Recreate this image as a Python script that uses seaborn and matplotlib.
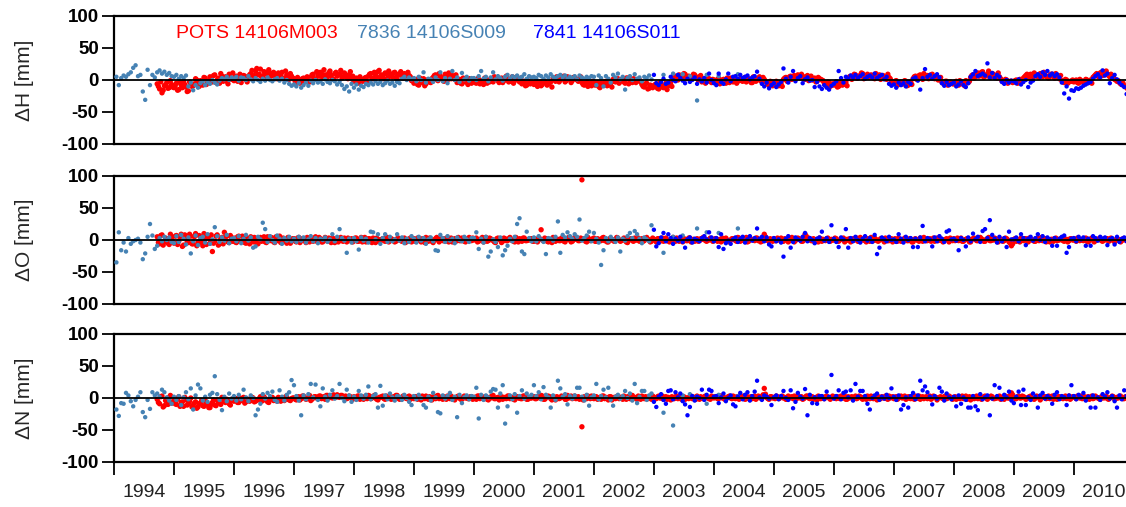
import numpy as np
import pandas as pd
import matplotlib
matplotlib.use("Agg")
import matplotlib.pyplot as plt
import seaborn as sns

# Sampling of the residual series (decimal years)
STEP = 0.04
POTS_START = 1994.72     # POTS 14106M003, first epoch
POTS_START_B = 1994.74   # POTS 14106M003, interleaved epochs
S009_START = 1994.04     # 7836 14106S009, first epoch
S011_START = 2003.00     # 7841 14106S011, first epoch

YEARS = list(range(1994, 2011))
COMPONENTS = ["ΔH [mm]", "ΔO [mm]", "ΔN [mm]"]
STATIONS = ["POTS 14106M003", "7836 14106S009", "7841 14106S011"]
COLORS = ["#ff0000", "#4682b4", "#0000ff"]

# ---------------- POTS 14106M003 (GPS) ----------------
pots_dH = (
    [-6, -14, -20, -9, -4, -12, -7] +                                            # 1994
    [-12, -5, -15, -8, -2, -11, -17, -6, -9, 2, -5, -1, -8, 3, -4,
     5, -3, 8, 0, -5, 6, 2, -2, 9, 1] +                                          # 1995
    [-1, 6, 3, -4, 7, 1, 4, 10, 4, 14, 8, 17, 6, 12, 3, 11, 7,
     9, 2, 7, 12, 3, 8, 1, 6] +                                                  # 1996
    [2, -4, 1, -3, 3, -2, 0, 4, 9, 1, 7, 12, 3, 8, 5, 14, 2, 10, 6, 9,
     3, 11, 4, 7, 2] +                                                           # 1997
    [-2, 3, -4, 1, -1, 4, 6, 10, 2, 8, 13, 4, 7, 11, 3, 9, 5, 12, 1, 8,
     6, 10, 3, 7, -1] +                                                          # 1998
    [-5, 1, -8, -2, 2, -6, -1, -4, 4, 8, -1, 6, 2, 9, 0, 5, 7, 1,
     -4, 1, -6, -1, -3, 2, -5] +                                                 # 1999
    [-1, -5, 1, -3, -7, 0, -2, 2, -3, 4, -1, 1, -4, 3, 0, -2, 5, -1, 2, -3,
     -6, -2, -8, -3, -5] +                                                       # 2000
    [-7, -2, -5, -9, -1, -4, -6, -3, 3, -2, 4, 0, 2, -3, 5, 1, -1, 3, 0, 2,
     -4, -8, -2, -6, -9] +                                                       # 2001
    [-3, -7, -10, -4, -6, -2, -8, -5, 1, -3, 2, -2, 0, -5, 3, -1, -4, 1, -2, 0,
     -7, -11, -5, -13, -9] +                                                     # 2002
    [-10, -6, -14, -8, -12, -5, -9, -4, 2, 6, 0, 7, 3, 9, 4, 1, 6, 8, 2, 5,
     -3, 1, -2, 2, -4] +                                                         # 2003
    [0, -4, 2, -2, 1, -5, -1, 3, -3, 0, -2, 2, -2, 4, -1, 1, -4, 3, 0, 5, -3, 1,
     -4, -8, -3] +                                                               # 2004
    [-6, -2, -9, -5, 1, 4, -1, 6, 2, 5, 8, 3, 6, 1, 7, 4, 0, 3, -2, 2, 0,
     -5, -9, -4, -7] +                                                           # 2005
    [-8, -3, -10, -5, -7, -4, 2, 6, 4, 8, 3, 7, 10, 5, 9, 4, 7, 2, 6, 8, 3, 5,
     1, 4, -2] +                                                                 # 2006
    [-5, -1, -7, -3, -6, -2, -8, -4, 2, 6, 3, 8, 1, 5, 7, 4, 9, 2, 5, 1,
     -3, -6, -2, -7, -4] +                                                       # 2007
    [-6, -2, -8, -3, -5, -1, -4, 4, 8, 5, 11, 7, 13, 6, 9, 4, 10, 7, 3, 5,
     -1, -4, 0, -3, -2] +                                                        # 2008
    [-3, 0, -4, -1, 3, 7, 5, 9, 4, 8, 6, 10, 5, 8, 4, 7, 9, 3, 6, 2,
     -1, -4, 0, -3, -2] +                                                        # 2009
    [-3, 0, -5, -1, -2, 1, -4, 0, 4, 8, 6, 11, 7, 13, 9, 5,
     3, 1, -2, -4, -7, -9, -12]                                                  # 2010
)
pots_dH_b = (
    [-10, -3, -16, -8, -13, -1, -11] +                                           # 1994
    [-9, -16, -4, -12, -7, -18, -3, -10, -6, 0, -10, -2, 4, -7, -1,
     0, 7, -4, 3, 10, -2, 5, -6, 4, 11] +                                        # 1995
    [5, -2, 9, 2, 6, -3, 8, 15, 7, 18, 9, 5, 13, 10, 16, 6, 12,
     4, 11, 8, 2, 14, 5, 10, 3] +                                                # 1996
    [-2, 4, -5, 2, -1, 5, -3, 8, 2, 13, 6, 10, 16, 4, 11, 7, 1, 12, 8, 15,
     5, 9, 2, 13, 6] +                                                           # 1997
    [2, -5, 5, -2, 3, -3, 9, 3, 12, 5, 15, 8, 2, 10, 14, 6, 11, 4, 9, 13,
     3, 8, 12, 5, 2] +                                                           # 1998
    [-1, -7, 3, -4, -9, 0, -3, 2, 7, 1, 10, 3, -2, 6, 11, 2, 4, 8,
     0, -5, 3, -3, -7, 1, -2] +                                                  # 1999
    [-4, 2, -6, -1, 3, -5, -3, -2, 5, 1, -4, 3, -1, 6, -3, 2, -5, 4, 0, 3,
     -3, -9, -1, -6, -4] +                                                       # 2000
    [-5, -10, -3, -7, -2, -8, -4, -11, 1, 5, -3, 2, 6, -1, 3, -4, 4, 2, -2, 5,
     -7, -3, -10, -5, -2] +                                                      # 2001
    [-8, -4, -12, -6, -3, -9, -5, -11, -2, 2, -5, 1, -3, 3, -6, 0, 2, -4, 1, -3,
     -10, -6, -14, -8, -12] +                                                    # 2002
    [-7, -13, -5, -11, -9, -15, -6, -10, 5, 1, 8, 4, 10, 2, 6, 3, 9, 5, 0, 7,
     0, -5, 2, -2, 1] +                                                          # 2003
    [-3, 1, -6, 0, -2, 3, -4, -1, 2, -5, 1, -1, 3, -3, 2, -4, 5, -2, 1, -1, 4, -2,
     -7, -2, -9] +                                                               # 2004
    [-3, -8, -4, -10, 3, -2, 5, 1, 7, 3, 4, 9, 2, 5, -1, 6, 2, -3, 4, 1, -1,
     -8, -3, -10, -6] +                                                          # 2005
    [-5, -11, -4, -8, -2, -9, 5, 1, 9, 3, 6, 11, 2, 7, 4, 8, 3, 10, 5, 1, 7, 4,
     9, 2, -4] +                                                                 # 2006
    [-2, -8, -4, -6, -1, -9, -3, -7, 5, 1, 7, 3, 10, 4, 2, 8, 3, 6, 0, 4,
     -5, -2, -8, -3, -6] +                                                       # 2007
    [-3, -7, -1, -6, -9, -4, -2, 7, 3, 10, 6, 12, 4, 8, 14, 5, 9, 6, 11, 2,
     -3, 1, -5, -2, -4] +                                                        # 2008
    [-1, -5, 1, -3, 5, 9, 3, 7, 11, 6, 4, 8, 12, 6, 3, 9, 5, 10, 4, 7,
     -3, 1, -5, -2, 0] +                                                         # 2009
    [-1, -4, 1, -3, -6, 0, -2, -5, 6, 10, 5, 12, 8, 14, 7, 9,
     5, 0, -1, -6, -5, -10, -14]                                                 # 2010
)
pots_dO = (
    [5, -6, 8, -3, 2, -7, 4] +
    [-5, 7, -2, 9, -8, 3, -4, 6, -6, 10, -3, 5, -9, 2, 7, -5, -18, -2, 8, -6, 4, 12, 6, -4, 3] +
    [3, -4, 6, -2, 4, -5, 1, 5, -3, 2, -6, 4, 0, -3, 5, -1, 3, -4, 2, 6, -2, 1, -5, 3, -1] +
    [2, -3, 4, -1, 1, -4, 3, 0, -2, 5, -1, 2, -3, 4, 0, -2, 3, -4, 1, 2, -1, 3, -3, 0, 2] +
    [-1, 3, -2, 4, 0, -3, 2, -1, 3, -4, 1, 0, 2, -2, 4, -1, 1, -3, 2, 0, -2, 3, -1, 1, -3] +
    [2, -1, 3, -3, 0, 4, -2, 1, -4, 2, 0, 3, -1, -2, 4, 1, -3, 2, 0, -1, 3, -2, 1, 4, -1] +
    [0, 3, -2, 1, -3, 4, -1, 2, 0, -4, 3, 1, -2, 2, -1, 4, 0, -3, 1, 2, -2, 3, -1, 0, 2] +
    [-2, 1, 3, 16, -1, 2, -3, 0, 4, -2, 1, -1, 3, -3, 2, 0, -2, 4, 1, -1, 94, 2, -3, 1, 0] +
    [3, -2, 1, -1, 4, 0, -3, 2, -1, 1, 3, -2, 0, 2, -4, 1, -1, 3, 0, -2, 2, -1, 4, 0, -2] +
    [1, -3, 2, 0, -2, 3, -1, 1, 4, -2, 0, 2, -3, 1, -1, 3, 0, -2, 2, -1, 1, 3, -2, 0, 1] +
    [-1, 2, 0, -3, 1, 3, -2, 0, 2, -1, 4, -2, 1, 0, -3, 2, 1, -1, 3, 0, -2, 9, 1, -2, 0] +
    [2, -1, 0, 3, -2, 1, -3, 2, 0, -1, 3, 1, -2, 9, 0, 2, -1, -3, 1, 3, -2, 0, 2, -1, 1] +
    [0, 2, -2, 1, 3, -1, 0, -3, 2, 1, -2, 4, 0, -1, 2, -2, 1, 3, -1, 0, 2, -3, 1, -1, 2] +
    [-1, 1, 3, -2, 0, 2, -1, 1, -3, 2, 0, 3, -2, 1, -1, 2, 0, -2, 3, 1, -1, 0, 2, -3, 1] +
    [2, 0, -1, 3, -2, 1, 0, -3, 2, 1, -1, 4, 0, -2, 2, -1, 1, 3, -2, 0, 1, -1, 2, -3, -9] +
    [1, -2, 0, 3, -1, 2, -3, 1, 0, -2, 3, 1, -1, 2, 0, -3, 1, 2, -1, 0, 3, -2, 1, -1, 2] +
    [0, -2, 2, 1, -1, 3, -3, 0, 2, -1, 1, 3, -2, 0, 2, -1, 1, -3, 2, 0, -1, 2, 1]
)
pots_dO_b = (
    [-4, 7, -8, 3, -5, 9, -2] +
    [6, -7, 4, -10, 8, -3, 9, -6, 5, -9, 7, -4, 10, -7, 3, 8, -5, 6, -8, 2, -6, 5, -3, 7, -2] +
    [-3, 5, -2, 6, -4, 3, -6, 2, 4, -5, 3, -2, 5, -4, 1, 4, -3, 5, -1, -4, 3, -2, 4, -5, 2] +
    [-2, 3, -4, 2, -1, 4, -3, 1, 3, -2, 4, -3, 1, -1, 3, -4, 2, 0, -3, 4, -2, 1, 3, -1, -3] +
    [3, -2, 1, -3, 4, -1, 2, -4, 0, 3, -2, 1, -1, 4, -3, 2, 0, -2, 3, -1, 2, -4, 1, 3, -1] +
    [-2, 3, -1, 2, -4, 1, 3, -2, 0, 4, -3, 1, 2, -1, -3, 3, 0, -2, 4, -1, 1, -3, 2, 0, 3] +
    [2, -3, 1, 4, -1, -2, 3, 0, -3, 2, 1, -4, 3, -1, 2, 0, -2, 4, -3, 1, 3, -1, 0, 2, -2] +
    [1, -3, 2, 0, 3, -2, 1, -4, 2, 0, -1, 3, -2, 1, 4, -3, 0, 2, -1, 3, 1, -2, 4, -1, 2] +
    [-2, 2, 0, 3, -1, -3, 2, 1, -2, 4, 0, -1, 3, -3, 1, 2, -2, 0, 3, -1, -2, 2, 1, -3, 3] +
    [0, 2, -2, 3, 1, -1, -3, 2, 0, 3, -2, 1, 2, -1, 3, -3, 1, 0, -2, 2, 4, -1, 0, 3, -2] +
    [2, -2, 1, 3, -1, 0, -3, 2, 1, -2, 3, 0, -1, 4, -2, 1, 0, 3, -1, -3, 2, 5, -1, 2, -2] +
    [-1, 3, 1, -2, 2, 0, -1, 4, -3, 1, 2, -2, 0, 6, 3, -1, 2, 0, -3, 2, 1, -1, 3, -2, 0] +
    [3, -1, 0, 2, -3, 1, 2, -1, 0, 3, -2, 1, 2, -3, 0, 4, -1, 1, -2, 2, 0, 3, -1, 1, -3] +
    [2, -2, 1, 0, 3, -1, 2, -3, 1, 0, -2, 2, 4, -1, 1, -2, 3, 0, -1, 2, -3, 1, 0, 3, -1] +
    [-1, 3, 1, -2, 0, 2, -3, 1, 3, -1, 0, 2, -2, 1, 4, -1, 0, 2, -3, 1, -2, 3, 0, -5, -6] +
    [2, 0, -3, 1, 2, -1, 3, 0, -2, 1, -1, 4, 2, -3, 0, 1, -2, 3, 0, 2, -1, 1, -3, 2, 0] +
    [1, 3, -1, 0, 2, -2, 1, 3, -3, 0, 2, -1, 1, 2, -2, 3, 0, -1, 1, -3, 2, 0, -1]
)
pots_dN = (
    [-2, -9, 3, -12, -5, 1, -8] +
    [-4, -10, 2, -7, -13, -3, -9, 0, -11, -6, -14, -8, -12, -4, -10, -15, -7, -11, -3, -8, 1, -6, -2, -9, -4] +
    [-5, -1, -7, -3, 1, -6, -2, -4, 0, -5, -3, 2, -4, -1, -6, -2, 1, -3, -5, 0, -2, -4, 1, -3, -1] +
    [0, -3, 2, -1, 3, -2, 1, -4, 0, 2, -1, 3, 1, -2, 4, 2, 0, 3, 5, 1, 4, 2, -1, 3, 0] +
    [2, -1, 3, 0, -2, 1, 4, -1, 2, 0, -3, 1, 3, -2, 0, 2, -1, 1, 4, -2, 0, 2, -1, 3, 1] +
    [-1, 2, 0, -3, 1, 3, -2, 0, 2, -1, 4, 1, -2, 0, 3, -1, 1, -3, 2, 0, -2, 3, 1, -1, 2] +
    [0, -2, 3, 1, -1, 2, -3, 0, 4, -1, 1, 2, -2, 0, 3, -1, 1, -3, 2, 0, -1, 3, -2, 1, 0] +
    [2, -1, 1, 4, -2, 0, 3, -1, 2, -3, 1, 0, 2, -2, 4, 1, -1, 3, 0, -2, -45, 2, -1, 1, 3] +
    [-1, 2, 0, -2, 3, 1, -3, 2, 0, -1, 3, 1, -2, 0, 2, -1, 4, 1, -2, 0, 3, -1, 1, 2, -2] +
    [1, -1, 3, 0, -2, 2, 1, -3, 0, 2, -1, 3, 1, -2, 0, 2, -1, 1, 3, -2, 0, 2, 1, -1, 3] +
    [0, 2, -1, 3, 1, -2, 2, 0, 3, -1, 1, 4, 0, -2, 2, 1, -1, 3, 0, 2, -1, 15, 1, -2, 2] +
    [1, 3, -1, 2, 0, -2, 3, 1, -1, 2, 4, 0, -2, 1, 3, -1, 2, 0, -3, 1, 2, -1, 3, 0, 1] +
    [2, -1, 1, 3, 0, -2, 2, 1, -1, 3, 0, 2, -2, 1, 3, -1, 0, 2, -3, 1, 2, 0, -1, 3, 1] +
    [-1, 2, 0, 3, 1, -2, 2, -1, 1, 3, 0, -2, 2, 1, -1, 3, 0, 2, -3, 1, 0, 2, -1, 3, 1] +
    [0, -2, 2, 1, -1, 3, 0, -3, 2, 1, -1, 2, 0, 3, -2, 1, 2, -1, 0, 3, 1, -2, 2, 0, 8] +
    [1, -1, 3, 0, 2, -2, 1, 3, -1, 0, 2, -3, 1, 2, 0, -1, 3, 1, -2, 2, 0, 1, -1, 3, 0] +
    [2, -1, 1, 3, 0, -2, 2, 1, -1, 3, 0, -2, 2, 1, -1, 0, 3, -2, 1, 2, 0, -1, 2]
)
pots_dN_b = (
    [-7, 2, -14, -4, -10, 4, -6] +
    [-9, -2, -13, -6, 1, -11, -5, -14, -8, -16, -9, -4, -13, -7, -15, -10, -3, -12, -6, -10, -2, -7, -4, -11, -1] +
    [-3, -7, 0, -4, -8, -2, -5, 1, -6, -3, -1, -5, 2, -3, -7, 0, -4, -2, 1, -5, -3, 2, -2, -4, 0] +
    [-2, 1, -3, 3, 0, -1, 4, -2, 2, 0, 3, -1, 2, 4, 0, 3, 5, 1, 2, 4, 1, 3, 0, 2, -2] +
    [0, 3, -2, 2, 1, -1, 3, 0, 4, -2, 1, 2, -1, 3, 1, -2, 2, 4, 0, -1, 3, 0, 2, -2, 1] +
    [2, -2, 1, 3, -1, 0, 2, -3, 1, 3, -1, 0, 2, -2, 1, 3, -1, 0, 3, -2, 1, 0, -1, 2, -2] +
    [1, 3, -1, 0, 2, -2, 1, 3, -1, 0, -3, 2, 1, -1, 3, 0, -2, 2, 0, -1, 3, 1, -2, 0, 2] +
    [-1, 2, 0, 3, -2, 1, 2, -3, 0, 2, -1, 3, 1, -2, 0, 3, 1, -1, 2, 0, -3, 1, 3, -1, 0] +
    [2, -2, 1, 3, -1, 0, 2, -3, 1, 2, -1, 0, 3, -2, 1, 2, 0, -1, 3, -2, 1, 2, -1, 0, 3] +
    [-1, 2, 0, 3, 1, -2, 0, 2, -1, 3, 1, -2, 2, 0, -1, 3, 1, -2, 0, 2, -1, 3, 0, -2, 1] +
    [2, -1, 3, 0, -2, 1, 3, -1, 0, 2, -2, 1, 3, -1, 0, 2, 1, -2, 3, 0, 5, 6, -1, 2, 0] +
    [-1, 2, 0, 3, 1, -2, 0, 2, 3, -1, 1, 2, -1, 3, 0, 2, -2, 1, 3, -1, 0, 2, 1, -2, 3] +
    [0, 2, -1, 1, 3, -2, 0, 2, 1, -1, 3, 0, 1, -2, 2, 3, -1, 0, 2, -1, 1, 3, -2, 0, 2] +
    [1, -2, 2, 0, 3, -1, 1, 2, -2, 0, 3, 1, -1, 2, 0, -2, 3, 1, 0, 2, -1, 3, 0, 1, -2] +
    [2, 0, -1, 3, 1, -2, 2, 0, -1, 3, 1, -2, 2, 0, 1, 3, -1, 0, 2, -2, 1, 3, 0, 4, 5] +
    [-1, 2, 0, 3, 1, -1, 2, 0, -2, 3, 1, 0, 2, -1, 3, 1, -2, 0, 2, 1, -1, 3, 0, -2, 2] +
    [1, 3, 0, -1, 2, 1, -2, 3, 0, 1, -1, 2, 0, 3, -2, 1, 2, -1, 0, 3, -1, 2, 0]
)

# ---------------- 7836 14106S009 (SLR) ----------------
s009_dH = (
    [5, -8, 3, 7, 5, 9, 12, 19, 23, 6, 8, -18, -31, 16, -8, 8, 4, 12, 15, 10, 13, 8, 11, 6] +
    [5, 8, 2, 6, 3, 7, -10, -4, -16, -8, -12, -5, -2, -8, -3, -6, 0, -4, -7, -1, 3, 1, 5, 0, 4] +
    [2, 5, -1, 4, 3, 0, 6, 1, -2, 3, 0, -3, 2, -1, 4, 0, -2, 1, 3, -1, 2, -4, 0, -6, -9] +
    [-7, -10, -5, -12, -8, -4, -9, -1, -5, 0, -4, -2, -6, 1, -3, -5, 0, -2, -7, -3, -8, -14, -10, -18, -6] +
    [-12, -7, -15, -9, -11, -6, -8, -4, -7, -2, -6, -3, -8, -5, -1, -6, -4, -9, -3, -5, 2, 5, 0, 4, 1] +
    [3, -2, 5, 0, 12, -4, 2, 1, -3, 4, 0, 12, -2, 3, -5, 2, 14, 0, 4, -3, 11, 1, 5, -1, 3] +
    [3, 0, 6, 14, 2, 5, -2, 4, 12, 1, 6, 3, -1, 5, 8, 2, 6, 4, 7, 3, 5, 9, 2, 6, 4] +
    [5, 3, 8, 6, 2, 7, 4, 9, 5, 3, 6, 8, 4, 7, 2, 5, 3, 6, 1, 7, 4, 2, 5, 3, 6] +
    [5, -8, 7, 3, -10, 6, 2, -4, 8, 4, 10, 1, 5, -15, 3, 6, 0, 9, 2, 4, -2, 5, 3, 7, 1]
)
s009_dO = (
    [-35, 12, -16, -4, -18, 3, -6, -2, 0, 2, -4, -30, -21, 5, 25, 7, -14, -9, 3, -2, 5, 0, 4, -3] +
    [-5, 6, -3, 8, 2, -7, 4, -21, -2, 7, -8, 3, 5, -4, 9, -6, 1, 20, 6, -3, 4, -1, 8, -5, 2] +
    [3, -2, 6, -5, 2, 8, -1, 4, -12, -10, 5, 1, 27, 17, -3, 6, 0, -4, 7, 2, -6, 3, -1, 5, -2] +
    [2, -3, 5, -1, 4, -4, 1, 6, -2, 3, -5, 2, 0, 4, -3, 1, 9, -2, 5, 17, 3, -1, -20, 2, -4] +
    [3, -2, -15, 4, -1, 2, -4, 13, 12, 1, 9, -6, 3, 9, -3, 5, -2, 1, 9, -1, 4, -5, 2, -3, 6] +
    [2, -4, 5, -1, 3, -6, 1, 4, -2, -16, -17, 8, 3, -3, 6, -1, 2, -5, 4, 0, -2, 5, 1, -3, 3] +
    [3, 12, -14, 2, -4, 5, -26, -18, 1, -3, -11, 4, -24, -16, -9, 2, -2, 5, 25, 34, -18, -22, 13, 3, -2] +
    [4, -2, 6, 1, -3, -22, 3, 2, -1, 5, 29, -20, 8, 4, 12, 6, 2, 9, 5, 32, -1, 3, 7, 13, -2] +
    [11, 2, -4, -39, -16, 3, -2, 5, 1, -3, 4, -18, 2, -1, 6, 11, 3, 14, 9, 2, -5, 4, 1, -2, 23]
)
s009_dN = (
    [-18, -28, -8, -9, 8, 4, -5, -13, -3, 2, 9, -22, -30, -3, -17, 9, 4, 7, 2, 13, 9, 1, -4, -9] +
    [2, -3, 3, -11, 1, 9, -2, 15, -18, 4, 21, 15, -4, 2, -6, 5, 8, 34, 6, -3, -19, 2, -5, 7, -1] +
    [3, -4, 5, -2, 13, 1, -5, 4, 0, -27, -18, -9, 6, -1, 8, 3, 10, -3, -6, 12, 2, -4, 5, 9, 28] +
    [20, 3, -4, -27, 4, -2, 6, 22, 1, 21, -3, -13, 15, 2, -4, 5, 12, -1, 3, 22, 0, -5, 13, 4, -6] +
    [2, -3, 11, 4, -1, 5, 18, -2, 3, 6, -15, 19, -12, 4, -2, 7, 1, -4, 3, 2, -3, 5, 0, -6, -11] +
    [3, -2, 5, 0, -11, -15, 2, -4, 8, 1, -22, -24, 4, -1, 3, 8, -3, 2, -30, 5, -8, 1, 4, -2, 3] +
    [2, 16, -32, 5, -3, 4, 1, 10, 14, 13, -15, 7, 20, -40, -13, 4, -2, 6, -23, 3, 12, -1, 7, 2, 5] +
    [20, 3, 9, -2, 17, 5, 1, -15, 4, -3, 27, 15, 2, 6, -10, 3, -1, 4, 16, 16, 2, -4, 5, -12, 1] +
    [4, 22, -2, 3, 13, 1, 16, -3, -12, 2, 5, -1, 3, 11, 0, 7, -4, 22, -8, 2, 11, 11, -3, 4, 7]
)
# last, sparse 7836 normal points
s009_tail_t = [2003.16, 2003.32, 2003.48, 2003.60, 2003.72, 2003.88, 2004.08, 2004.40]
s009_tail_dH = [8, 10, 9, 6, -32, 8, 6, 9]
s009_tail_dO = [-20, 5, 7, 3, 18, 12, 11, 18]
s009_tail_dN = [-23, -43, 4, 6, 2, -9, 5, 3]

# ---------------- 7841 14106S011 (SLR) ----------------
s011_dH = (
    [8, -5, -8, -3, 2, -6, -4, 5, 0, -2, 8, 3, -1, -5, 2, -3, 0, 4, -6, 1, -2, 3, -4, 10, 0] +
    [-5, -8, 10, -3, -6, 1, 10, -2, 5, 6, 2, 8, 3, 5, 7, 1, 4, 6, 13, 2, -6, -10, -4, -13, -8] +
    [-5, -11, -7, -3, 18, 2, -4, 5, 14, -2, 3, 6, -5, 1, 4, -1, 0, -11, -3, -10, -14, -8, -12, -15, -9] +
    [-6, -2, 14, 3, -4, 5, 2, 7, 4, 8, 3, 6, 9, 2, 5, 7, 4, 10, 3, 6, 8, 1, 5, -6, -9] +
    [-7, -12, -4, -8, -5, -10, -3, -6, 2, 4, -1, -15, 3, 17, 5, 8, 2, 6, 9, 4, -5, -9, -3, -8, -6] +
    [-4, -10, -7, -2, -8, -11, -5, 5, 9, 14, 6, 8, 10, 7, 26, 4, 11, 3, 8, 5, -3, -6, 0, -4, -1] +
    [-2, -5, 1, -7, -3, 0, -11, -4, -1, 6, 9, 5, 12, 8, 14, 7, 10, 6, 9, 4, -4, -21, -10, -29, -16] +
    [-17, -13, -14, -12, -9, -7, -5, -3, 2, 6, 9, 4, 15, 7, 10, -5, 3, 8, 1, -4, -8, -11, -22]
)
s011_dO = (
    [16, -10, -5, 4, 11, -2, 9, 3, -6, 2, -1, 5, -3, -12, 1, 4, -4, 2, 0, -2, 3, 6, 1, 12, 4] +
    [-2, 3, -11, 9, -14, -5, -1, -6, 1, 4, -3, 2, 5, -4, 1, 6, -1, 3, 18, 2, 5, -2, 4, -7, -10] +
    [3, -2, 1, -4, -26, 2, 6, -12, -3, 4, 1, -1, 5, 11, -2, 3, 0, -5, 2, 4, 13, -1, 3, -3, 23] +
    [2, -3, -11, 4, 1, 17, -12, 3, -2, 5, 0, -4, 2, 6, -1, 3, -3, 8, -22, -12, 4, 1, -2, 5, 0] +
    [1, -3, 9, 2, -4, 5, 0, 3, -11, 2, -11, 4, 22, -2, 3, 1, -10, 4, -2, 6, 2, -3, 13, 15, 1] +
    [2, -1, -16, 3, 0, -10, 4, -2, 10, 1, 5, -3, 14, 17, 3, 31, 8, 2, -4, 5, -2, 3, -11, 13, 1] +
    [1, 4, -2, 9, 3, -8, 2, 5, -1, 3, 9, 0, 6, -3, 4, 1, -9, 3, -9, 2, 5, 7, -20, -11, 2] +
    [3, -2, 5, 1, 4, -9, 2, -9, 6, 3, -1, 5, 2, 4, -8, 1, 3, -7, 5, -3, 2, 4, -2]
)
s011_dN = (
    [-6, -14, 2, 6, -3, -9, 11, 12, -2, 9, 1, 7, -5, -10, -27, -14, 3, -4, 2, 0, 13, -3, 5, 13, 11] +
    [2, 3, -8, 1, 7, -5, 0, 4, -10, -13, 2, 8, -2, 5, 9, -4, 3, 10, 27, 1, -3, 4, 2, -1, -11] +
    [1, 4, -2, 3, 11, 0, -3, 12, -16, -6, 8, 2, -1, 14, -27, 5, -8, 1, -9, 3, 3, -2, 10, 2, 36] +
    [-1, 3, 12, -2, 8, 10, 1, 12, -4, 22, 2, 11, 11, 3, -9, -18, 0, 4, 7, -3, 2, -1, 5, 0, 15] +
    [2, -3, 4, -18, -11, 1, -15, 3, 8, -2, 4, 27, 12, 18, 9, 2, -10, 3, -1, 16, 10, -4, 7, 1, -2] +
    [2, -13, 4, -9, 1, -3, -15, -15, 3, -13, -19, 6, -2, 1, 4, -27, -1, 20, 3, 16, -2, 5, 1, 10, -4] +
    [-8, 2, 10, -11, 13, -11, 1, -3, 7, 2, -15, 4, 8, -1, 3, 0, -9, 5, 9, -2, 3, 1, -11, 4, 20] +
    [3, -2, 5, 1, 8, -4, 2, -15, 4, -15, 1, -3, 6, 2, 9, -1, 3, -5, -15, 4, -2, 12, 3]
)


def epochs(start, values):
    return start + STEP * np.arange(len(values))


def frame(t, v, station, comp):
    return pd.DataFrame({"t": t, "v": v, "station": station, "comp": comp})


def build_frame():
    series = {
        COMPONENTS[0]: ([pots_dH, pots_dH_b], s009_dH, s009_tail_dH, s011_dH),
        COMPONENTS[1]: ([pots_dO, pots_dO_b], s009_dO, s009_tail_dO, s011_dO),
        COMPONENTS[2]: ([pots_dN, pots_dN_b], s009_dN, s009_tail_dN, s011_dN),
    }
    rows = []
    for comp, (pots_sets, s009, s009_tail, s011) in series.items():
        # drawing order: GPS first, then the two SLR stations on top
        for start, vals in zip([POTS_START, POTS_START_B], pots_sets):
            rows.append(frame(epochs(start, vals), vals, STATIONS[0], comp))
        t009 = np.concatenate([epochs(S009_START, s009), s009_tail_t])
        rows.append(frame(t009, list(s009) + list(s009_tail), STATIONS[1], comp))
        rows.append(frame(epochs(S011_START, s011), s011, STATIONS[2], comp))
    return pd.concat(rows, ignore_index=True)


df = build_frame()

sns.set_style("ticks")
plt.rcParams["font.family"] = ["Liberation Sans", "DejaVu Sans"]
plt.rcParams["axes.unicode_minus"] = False

W, H = 1126, 507
fig = plt.figure(figsize=(W / 100, H / 100), dpi=100)

left = 114 / W
width = 1.0 - left
panel_px = [(16, 144), (176, 304), (334, 462)]
palette = dict(zip(STATIONS, COLORS))
marker_sizes = dict(zip(STATIONS, [15, 10, 10]))

axes = []
for (top, bot), comp in zip(panel_px, COMPONENTS):
    ax = fig.add_axes([left, 1 - bot / H, width, (bot - top) / H])
    sub = df[df["comp"] == comp]
    sns.scatterplot(data=sub, x="t", y="v", hue="station", palette=palette,
                    size="station", sizes=marker_sizes,
                    linewidth=0, legend=False, ax=ax, zorder=3)
    ax.axhline(0, color="black", lw=1.3, zorder=5)
    ax.set_xlim(1994.0, 2010.87)
    ax.set_ylim(-100, 100)
    ax.set_yticks([-100, -50, 0, 50, 100])
    ax.set_xlabel("")
    ax.set_ylabel(comp, fontsize=15)
    ax.yaxis.set_label_coords(-0.079, 0.5)
    ax.spines["right"].set_visible(False)
    for side in ("top", "bottom", "left"):
        ax.spines[side].set_linewidth(1.6)
        ax.spines[side].set_color("black")
    ax.tick_params(axis="y", length=9, width=1.3, pad=2, labelsize=13.5, colors="black")
    for lbl in ax.get_yticklabels():
        lbl.set_fontweight("bold")
    axes.append(ax)

for ax in axes[:2]:
    ax.tick_params(axis="x", bottom=False, labelbottom=False)

bottom_ax = axes[2]
bottom_ax.set_xticks(YEARS)
bottom_ax.set_xticklabels([])
bottom_ax.set_xticks([y + 0.5 for y in YEARS], minor=True)
bottom_ax.set_xticklabels([str(y) for y in YEARS], minor=True)
bottom_ax.tick_params(axis="x", which="major", length=9, width=1.3, color="black")
bottom_ax.tick_params(axis="x", which="minor", length=0, pad=16, labelsize=14,
                      labelcolor="#222222")

# station key along the top of the first panel
for x_px, name, col in zip([176, 357, 533], STATIONS, COLORS):
    fig.text(x_px / W, 1 - 33 / H, name, color=col, fontsize=14,
             ha="left", va="center")

fig.savefig("out.png", dpi=100)
